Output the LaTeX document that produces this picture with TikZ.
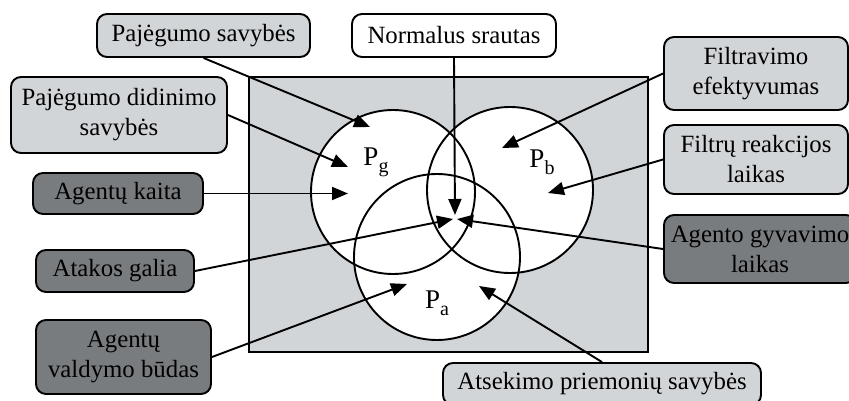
\documentclass[tikz,border=0pt]{standalone}
\usepackage{fontspec}
\setmainfont{Liberation Serif}
\usetikzlibrary{arrows.meta}
\definecolor{lightg}{HTML}{D2D5D8}
\definecolor{darkg}{HTML}{797C7F}
\begin{document}
\begin{tikzpicture}[x=1pt,y=-1pt,
  every node/.style={font=\fontsize{24.8}{30}\selectfont},
  boxbase/.style={draw=black, line width=1.9pt, rounded corners=10pt, inner sep=0pt, align=center},
  lbox/.style={boxbase, fill=lightg},
  dbox/.style={boxbase, fill=darkg},
  wbox/.style={boxbase, fill=white},
  venn/.style={draw=black, line width=1.9pt},
  arr/.style={draw=black, line width=1.9pt, -{Triangle[length=16pt,width=13pt]}},
  plabel/.style={font=\fontsize{27}{30}\selectfont, inner sep=0pt}
]
\useasboundingbox (0,0) rectangle (849,401);
\clip (0,0) rectangle (849,401);
% background
\draw[line width=1.9pt, fill=lightg] (249,77) rectangle (648,352);
% circles
\fill[white] (393,192) circle (82pt);
\fill[white] (510,190) circle (83pt);
\fill[white] (437,257) circle (83pt);
\draw[venn] (393,192) circle (82pt);
\draw[venn] (510,190) circle (83pt);
\draw[venn] (437,257) circle (83pt);
% labels
\node[plabel] (pg) at (376,162) {P\raisebox{-7pt}{\fontsize{20}{20}\selectfont g}};
\node[plabel] (pb) at (542,162) {P\raisebox{-7pt}{\fontsize{20}{20}\selectfont b}};
\node[plabel] (pa) at (437,303) {P\raisebox{-7pt}{\fontsize{20}{20}\selectfont a}};
% boxes
\node[lbox, minimum width=213pt, minimum height=43pt] (psav) at (203.5,35.5) {Pajėgumo savybės};
\node[wbox, minimum width=204pt, minimum height=43pt] (norm) at (454,35.5) {Normalus srautas};
\node[lbox, minimum width=216pt, minimum height=76pt] (pdid) at (119,115) {Pajėgumo didinimo\\savybės};
\node[dbox, minimum width=170pt, minimum height=41pt] (akait) at (118,193.5) {Agentų kaita};
\node[dbox, minimum width=158pt, minimum height=42pt] (atak) at (115,271) {Atakos galia};
\node[dbox, minimum width=175pt, minimum height=74pt] (avald) at (123.5,357) {Agentų\\valdymo būdas};
\node[lbox, minimum width=184pt, minimum height=73pt] (filtef) at (756,73.5) {Filtravimo\\efektyvumas};
\node[lbox, minimum width=184pt, minimum height=69pt] (filtr) at (756,159.5) {Filtrų reakcijos\\laikas};
\node[dbox, minimum width=192pt, minimum height=68pt] (agyv) at (760,249) {Agento gyvavimo\\laikas};
\node[lbox, minimum width=318pt, minimum height=42pt] (atsek) at (602,384) {Atsekimo priemonių savybės};
% arrow tips
\coordinate (t1) at (370,127);
\coordinate (t2) at (348,167);
\coordinate (t3) at (348,193.5);
\coordinate (t4) at (455,215);
\coordinate (t5) at (502,148);
\coordinate (t6) at (548,193);
\coordinate (t7) at (457,219);
\coordinate (t8) at (453,219);
\coordinate (t9) at (407,284);
\coordinate (t10) at (479,286);
% connectors
\draw[arr] (psav.south) -- (t1);
\draw[arr] (pdid.east) -- (t2);
\draw[arr] (akait.east) -- (t3);
\draw[arr] (norm.south) -- (t4);
\draw[arr] (filtef.west) -- (t5);
\draw[arr] (filtr.west) -- (t6);
\draw[arr] (agyv.west) -- (t7);
\draw[arr] (atak.east) -- (t8);
\draw[arr] (avald.east) -- (t9);
\draw[arr] (atsek.north) -- (t10);
\end{tikzpicture}
\end{document}
